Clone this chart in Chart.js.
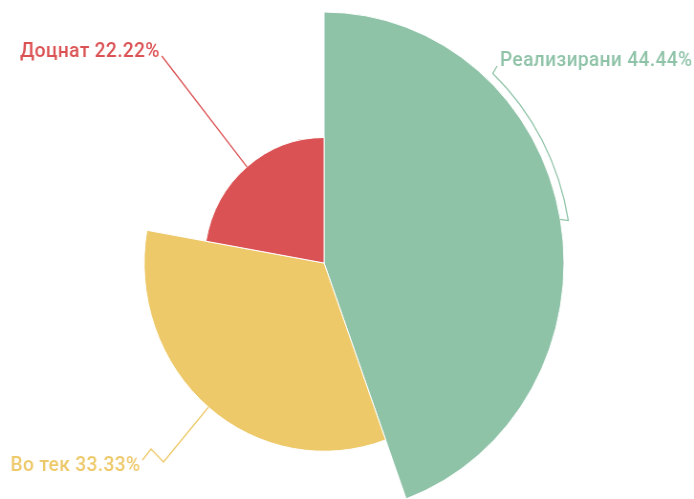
<!DOCTYPE html>
<html>
<head>
<meta charset="utf-8">
<script src="https://cdn.jsdelivr.net/npm/chart.js@4/dist/chart.umd.min.js"></script>
<style>
  html, body { margin: 0; padding: 0; background: #fff; overflow: hidden; }
</style>
</head>
<body>
<canvas id="statusChart" width="726" height="530" style="width:694px;height:530px;display:block"></canvas>
<script>
let labels = ["Реализирани", "Во тек", "Доцнат"];
let values = [44.44, 33.33, 22.22];
let colors = ["#8fc3a8", "#eec96a", "#db5254"];

let total = values.reduce((a, b) => a + b, 0);

// where each label sits and how its leader line runs (canvas coords)
let labelSpots = [
  { x: 523, y: 66, kind: "arc" },
  { x: 11, y: 471, pts: [[171, 462], [158, 449], [149, 460]], ends: true },
  { x: 21, y: 57, pts: [] },
];

const sliceLabels = {
  id: "sliceLabels",
  afterDatasetsDraw(chart) {
    const ctx = chart.ctx;
    const arcs = chart.getDatasetMeta(0).data;
    ctx.save();
    ctx.font = "500 20px Roboto";
    ctx.letterSpacing = "0.4px";
    ctx.lineWidth = 1.3;
    arcs.forEach((arc, i) => {
      const p = arc.getProps(["x", "y", "startAngle", "endAngle", "outerRadius"], true);
      const mid = (p.startAngle + p.endAngle) / 2;
      const ax = p.x + Math.cos(mid) * p.outerRadius;
      const ay = p.y + Math.sin(mid) * p.outerRadius;
      const spot = labelSpots[i];
      const text = labels[i] + " " + values[i].toFixed(2) + "%";
      const w = ctx.measureText(text).width;
      ctx.strokeStyle = colors[i];
      ctx.fillStyle = colors[i];
      ctx.beginPath();
      ctx.moveTo(ax, ay);
      if (spot.kind === "arc") {
        const r2 = p.outerRadius + 8;
        const a1 = mid + 0.01;
        const a2 = Math.atan2(73 - p.y, 516 - p.x);
        ctx.lineTo(p.x + Math.cos(a1) * r2, p.y + Math.sin(a1) * r2);
        ctx.arc(p.x, p.y, r2, a1, a2, true);
        ctx.lineTo(spot.x - 3, spot.y);
      } else {
        spot.pts.forEach((q) => ctx.lineTo(q[0], q[1]));
        if (!spot.ends) ctx.lineTo(spot.x + w + 2, spot.y - 1);
      }
      ctx.stroke();
      ctx.textAlign = "left";
      ctx.textBaseline = "alphabetic";
      ctx.fillText(text, spot.x, spot.y);
    });
    ctx.restore();
  },
};

var ctx = document.getElementById("statusChart").getContext("2d");
var statusChart = new Chart(ctx, {
  type: "polarArea",
  data: {
    labels: labels,
    datasets: [
      {
        data: values,
        backgroundColor: colors,
        borderColor: "#ffffff",
        borderWidth: 1,
        angle: (c) => (values[c.dataIndex] / total) * 360,
      },
    ],
  },
  options: {
    responsive: false,
    animation: false,
    layout: {
      padding: { left: 88, right: 136, top: 12, bottom: 16 },
    },
    plugins: {
      legend: { display: false },
      tooltip: { enabled: false },
    },
    scales: {
      r: {
        min: 0,
        max: Math.max(...values),
        ticks: { display: false },
        grid: { display: false },
        angleLines: { display: false },
        pointLabels: { display: false },
      },
    },
  },
  plugins: [sliceLabels],
});
</script>
</body>
</html>
